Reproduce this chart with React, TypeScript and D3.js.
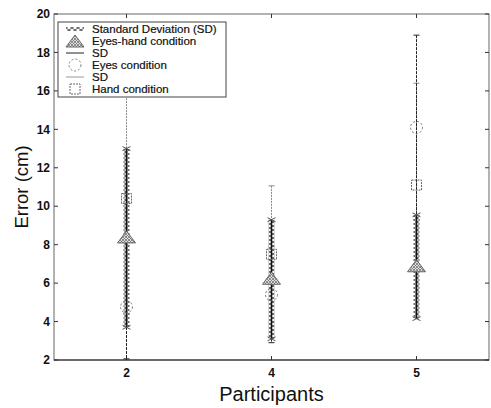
import React from 'react'
import * as d3 from 'd3'

const participants = ['2', '4', '5']
const yTicks = [2, 4, 6, 8, 10, 12, 14, 16, 18, 20]

// Eyes-hand condition (triangle) with hatched SD bar
const eyesHandMean = [8.35, 6.2, 6.85]
const eyesHandSD = [4.65, 3.1, 2.7]
// Eyes condition (circle), black SD line
const eyesMean = [4.76, 5.4, 14.1]
const eyesSD = [2.7, 2.5, 4.8]
// Hand condition (square), gray SD line
const handMean = [10.4, 7.5, 11.1]
const handSD = [6.0, 3.56, 5.3]

const legendItems = [
    'Standard Deviation (SD)',
    'Eyes-hand condition',
    'SD',
    'Eyes condition',
    'SD',
    'Hand condition',
]

const W = 491
const H = 408
const margin = { top: 14, right: 2, bottom: 48, left: 54 }
const font = 'Liberation Sans, Arial, sans-serif'

const App = () => {
    React.useEffect(() => {
        document.body.style.margin = '0'
    }, [])

    const x = d3
        .scalePoint()
        .domain(participants)
        .range([margin.left, W - margin.right])
        .padding(0.5)
    const y = d3
        .scaleLinear()
        .domain([2, 20])
        .range([H - margin.bottom, margin.top])

    const left = margin.left
    const right = W - margin.right
    const top = margin.top
    const bottom = H - margin.bottom

    const thinBar = (cx: number, m: number, s: number, color: string, dash: string, key: string) => (
        <g key={key}>
            <line x1={cx} x2={cx} y1={y(m + s)} y2={y(m - s)} stroke={color} strokeWidth={1} strokeDasharray={dash} />
            <line x1={cx - 3} x2={cx + 3} y1={y(m + s)} y2={y(m + s)} stroke={color} strokeWidth={1} />
            <line x1={cx - 3} x2={cx + 3} y1={y(m - s)} y2={y(m - s)} stroke={color} strokeWidth={1} />
        </g>
    )

    const triPath = (cx: number, cy: number) =>
        `M${cx},${cy - 7} L${cx + 9},${cy + 5} L${cx - 9},${cy + 5} Z`

    return (
        <svg width={W} height={H} style={{ display: 'block', background: '#fff' }}>
            <defs>
                <pattern id="hatch" width="6" height="4" patternUnits="userSpaceOnUse">
                    <rect width="6" height="4" fill="#fff" />
                    <path d="M0,0 L6,4 M6,0 L0,4" stroke="#555" strokeWidth="1" />
                </pattern>
                <pattern id="triHatch" width="3" height="3" patternUnits="userSpaceOnUse">
                    <rect width="3" height="3" fill="#ddd" />
                    <path d="M0,0 L3,3 M3,0 L0,3" stroke="#777" strokeWidth="0.8" />
                </pattern>
            </defs>

            {/* frame */}
            <rect x={left} y={top} width={right - left} height={bottom - top} fill="none" stroke="#666" strokeWidth={1} />
            <line x1={left} x2={right} y1={bottom} y2={bottom} stroke="#222" strokeWidth={1.2} />

            {/* y ticks */}
            {yTicks.map((t) => (
                <g key={'yt' + t}>
                    <line x1={left} x2={left + 4} y1={y(t)} y2={y(t)} stroke="#333" />
                    <line x1={right - 4} x2={right} y1={y(t)} y2={y(t)} stroke="#333" />
                    <text x={left - 4} y={y(t)} dy="0.35em" textAnchor="end" fontFamily={font} fontWeight="bold" fontSize={12} fill="#111">
                        {t}
                    </text>
                </g>
            ))}

            {/* x ticks */}
            {participants.map((p) => (
                <g key={'xt' + p}>
                    <line x1={x(p)} x2={x(p)} y1={bottom} y2={bottom - 4} stroke="#333" />
                    <line x1={x(p)} x2={x(p)} y1={top} y2={top + 4} stroke="#333" />
                    <text x={x(p)} y={bottom + 17} textAnchor="middle" fontFamily={font} fontWeight="bold" fontSize={12} fill="#111">
                        {p}
                    </text>
                </g>
            ))}

            {/* axis titles */}
            <text x={(left + right) / 2} y={401} textAnchor="middle" fontFamily={font} fontSize={20} fill="#111">
                Participants
            </text>
            <text transform={`translate(28,${(top + bottom) / 2}) rotate(-90)`} textAnchor="middle" fontFamily={font} fontSize={18.5} fill="#111">
                Error (cm)
            </text>

            {/* SD lines for hand (gray) and eyes (black) */}
            {participants.map((p, i) => thinBar(x(p) as number, handMean[i], handSD[i], '#888', '2,1', 'hsd' + p))}
            {participants.map((p, i) => thinBar(x(p) as number, eyesMean[i], eyesSD[i], '#222', '3,1', 'esd' + p))}

            {/* hatched SD for eyes-hand */}
            {participants.map((p, i) => {
                const cx = x(p) as number
                const y1 = y(eyesHandMean[i] + eyesHandSD[i])
                const y2 = y(eyesHandMean[i] - eyesHandSD[i])
                return (
                    <g key={'ehsd' + p}>
                        <rect x={cx - 3} y={y1} width={6} height={y2 - y1} fill="url(#hatch)" />
                        <line x1={cx} x2={cx} y1={y1} y2={y2} stroke="#111" strokeWidth={1.6} />
                        <path d={`M${cx - 4},${y1 - 2} L${cx + 4},${y1 + 2} M${cx + 4},${y1 - 2} L${cx - 4},${y1 + 2}`} stroke="#555" />
                        <path d={`M${cx - 4},${y2 - 2} L${cx + 4},${y2 + 2} M${cx + 4},${y2 - 2} L${cx - 4},${y2 + 2}`} stroke="#555" />
                    </g>
                )
            })}

            {/* markers */}
            {participants.map((p, i) => (
                <rect key={'sq' + p} x={(x(p) as number) - 5} y={y(handMean[i]) - 5} width={10} height={10} fill="none" stroke="#666" strokeWidth={1} strokeDasharray="2,1" />
            ))}
            {participants.map((p, i) => (
                <circle key={'ci' + p} cx={x(p) as number} cy={y(eyesMean[i])} r={6} fill="none" stroke="#777" strokeWidth={1} strokeDasharray="2,2" />
            ))}
            {participants.map((p, i) => (
                <path key={'tr' + p} d={triPath(x(p) as number, y(eyesHandMean[i]))} fill="url(#triHatch)" stroke="#666" strokeWidth={1} />
            ))}

            {/* legend */}
            <g>
                <rect x={58} y={22} width={168} height={75} fill="#fff" stroke="#444" strokeWidth={1} />
                {legendItems.map((d, i) => {
                    const ly = 29 + i * 12
                    return (
                        <text key={'lg' + i} x={92} y={ly} dy="0.35em" fontFamily={font} fontSize={11.5} fill="#111" stroke="#111" strokeWidth={0.2}>
                            {d}
                        </text>
                    )
                })}
                <rect x={66} y={27} width={18} height={4} fill="url(#hatch)" />
                <path d={triPath(75, 42)} fill="url(#triHatch)" stroke="#666" />
                <line x1={66} x2={84} y1={53} y2={53} stroke="#222" />
                <circle cx={75} cy={65} r={6} fill="none" stroke="#777" strokeDasharray="2,2" />
                <line x1={66} x2={84} y1={77} y2={77} stroke="#999" />
                <rect x={70} y={84} width={10} height={10} fill="none" stroke="#666" strokeDasharray="2,1" />
            </g>
        </svg>
    )
}

export default App
